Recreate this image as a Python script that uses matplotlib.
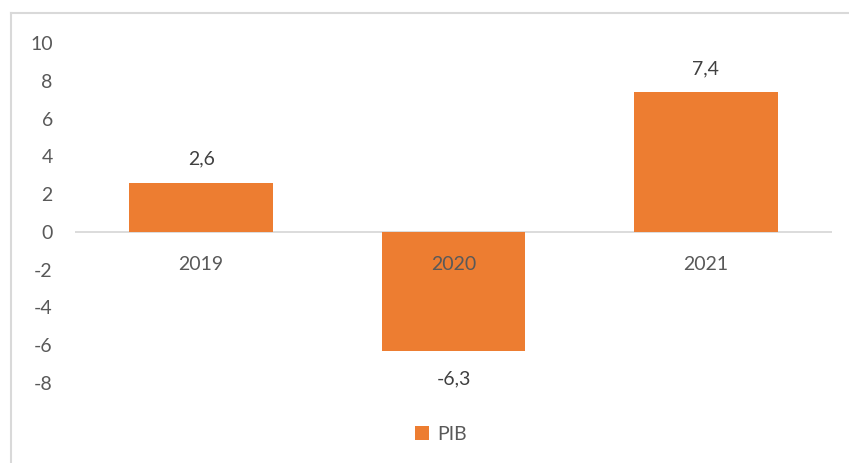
import matplotlib.pyplot as plt
from matplotlib.lines import Line2D

years = ['2019', '2020', '2021']
pib = [2.6, -6.3, 7.4]
labels = ['2,6', '-6,3', '7,4']

orange = '#ED7D31'
grey_txt = '#595959'
grey_line = '#D9D9D9'
plt.rcParams['font.family'] = ['Lato', 'DejaVu Sans']
plt.rcParams['axes.unicode_minus'] = False

fig = plt.figure(figsize=(8.49, 4.63), dpi=100)
ax = fig.add_axes([75 / 849, 1 - 383 / 463, 757 / 849, 340 / 463])

x = range(len(years))
bars = ax.bar(x, pib, width=0.57, color=orange, label='PIB', zorder=2)
ax.set_xlim(-0.5, 2.5)
ax.set_ylim(-8, 10)
ax.set_yticks(range(-8, 11, 2))
ax.tick_params(axis='y', length=0, labelsize=14, labelcolor=grey_txt, pad=16)
ax.set_xticks([])
for s in ax.spines.values():
    s.set_visible(False)
ax.axhline(0, color=grey_line, lw=1.3, zorder=1)

# category labels just under the zero line
for i, y in enumerate(years):
    ax.text(i, -1.75, y, ha='center', va='center', fontsize=14, color=grey_txt, zorder=3)

for i, (v, lab) in enumerate(zip(pib, labels)):
    off = 1.25 if v > 0 else -1.5
    ax.text(i, v + off, lab, ha='center', va='center', fontsize=14, color='#404040')

fig.legend(handles=[bars], labels=['PIB'], loc='center', bbox_to_anchor=(441 / 849, 1 - 434 / 463),
           frameon=False, fontsize=14, labelcolor=grey_txt, handlelength=0.7, handleheight=0.7,
           handletextpad=0.4)

# outer chart border (partially cropped in the original)
fig.add_artist(Line2D([11 / 849, 1], [1 - 13 / 463, 1 - 13 / 463], color=grey_line, lw=1.5))
fig.add_artist(Line2D([11 / 849, 11 / 849], [0, 1 - 13 / 463], color=grey_line, lw=1.5))

fig.savefig('out.png', dpi=100)
